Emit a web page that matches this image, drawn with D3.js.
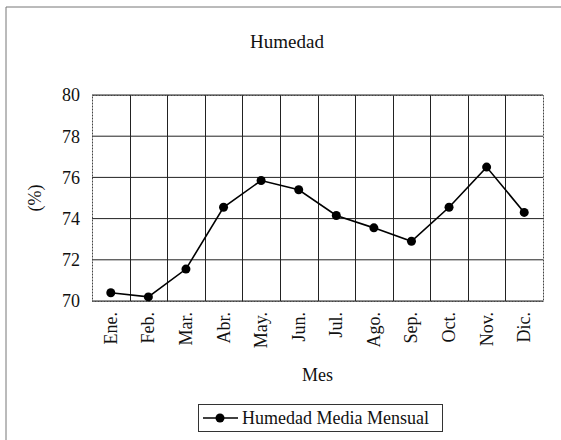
<!DOCTYPE html>
<html lang="es">
<head>
<meta charset="UTF-8">
<title>Humedad</title>
<script src="https://d3js.org/d3.v7.min.js"></script>
<style>
    * { margin: 0; padding: 0; box-sizing: border-box; }
    body { background: #fff; width: 561px; height: 440px; overflow: hidden; }
    svg text { font-family: "Liberation Serif", "Times New Roman", serif; fill: #111; }
</style>
</head>
<body>
<div id="chart"></div>
<script>
    // datos
    const meses = ["Ene.", "Feb.", "Mar.", "Abr.", "May.", "Jun.", "Jul.", "Ago.", "Sep.", "Oct.", "Nov.", "Dic."];
    const humedad = [70.4, 70.2, 71.55, 74.55, 75.85, 75.4, 74.15, 73.55, 72.9, 74.55, 76.5, 74.3];
    const yTicks = [70, 72, 74, 76, 78, 80];

    const W = 561, H = 440;
    const plot = { left: 92, right: 543, top: 95, bottom: 301 };

    const svg = d3.select("#chart").append("svg")
        .attr("width", W)
        .attr("height", H);

    // marco exterior (solo se ve arriba y a la izquierda)
    svg.append("path")
        .attr("d", `M6,${H} L6,7 L${W},7`)
        .attr("fill", "none")
        .attr("stroke", "#777")
        .attr("stroke-width", 1);

    const x = d3.scaleBand().domain(meses).range([plot.left, plot.right]);
    const y = d3.scaleLinear().domain([70, 80]).range([plot.bottom, plot.top]);

    // rejilla horizontal
    svg.append("g")
        .selectAll("line")
        .data(yTicks)
        .join("line")
        .attr("x1", plot.left).attr("x2", plot.right)
        .attr("y1", d => y(d)).attr("y2", d => y(d))
        .attr("stroke", "#222")
        .attr("stroke-width", 1);

    // rejilla vertical (entre meses)
    svg.append("g")
        .selectAll("line")
        .data(meses.slice(1))
        .join("line")
        .attr("x1", d => Math.round(x(d)) + 0.5).attr("x2", d => Math.round(x(d)) + 0.5)
        .attr("y1", plot.top).attr("y2", plot.bottom)
        .attr("stroke", "#222")
        .attr("stroke-width", 1);

    // borde del area de trazado
    svg.append("rect")
        .attr("x", plot.left + 0.5).attr("y", plot.top + 0.5)
        .attr("width", plot.right - plot.left).attr("height", plot.bottom - plot.top)
        .attr("fill", "none")
        .attr("stroke", "#444")
        .attr("stroke-width", 1)
        .attr("stroke-dasharray", "2,1");

    // etiquetas eje y
    svg.append("g")
        .selectAll("text")
        .data(yTicks)
        .join("text")
        .attr("x", 80)
        .attr("y", d => y(d))
        .attr("dy", "0.35em")
        .attr("text-anchor", "end")
        .style("font-size", "18px")
        .text(d => d);

    // etiquetas eje x (giradas)
    svg.append("g")
        .selectAll("text")
        .data(meses)
        .join("text")
        .attr("transform", d => `translate(${x(d) + x.bandwidth() / 2 + 6},312) rotate(-90)`)
        .attr("text-anchor", "end")
        .style("font-size", "18px")
        .text(d => d);

    // titulos
    svg.append("text")
        .attr("x", 287).attr("y", 48)
        .attr("text-anchor", "middle")
        .style("font-size", "19px")
        .text("Humedad");

    svg.append("text")
        .attr("x", (plot.left + plot.right) / 2).attr("y", 381)
        .attr("text-anchor", "middle")
        .style("font-size", "18px")
        .text("Mes");

    svg.append("text")
        .attr("transform", `translate(41,${(plot.top + plot.bottom) / 2}) rotate(-90)`)
        .attr("text-anchor", "middle")
        .style("font-size", "18px")
        .text("(%)");

    // serie
    const cx = d => x(d) + x.bandwidth() / 2;
    const linea = d3.line()
        .x((d, i) => cx(meses[i]))
        .y(d => y(d));

    svg.append("path")
        .datum(humedad)
        .attr("d", linea)
        .attr("fill", "none")
        .attr("stroke", "#000")
        .attr("stroke-width", 1.6);

    svg.append("g")
        .selectAll("circle")
        .data(humedad)
        .join("circle")
        .attr("cx", (d, i) => cx(meses[i]))
        .attr("cy", d => y(d))
        .attr("r", 4.5)
        .attr("fill", "#000");

    // leyenda
    const leg = svg.append("g").attr("transform", "translate(198,404)");
    leg.append("rect")
        .attr("x", 0.5).attr("y", 0.5)
        .attr("width", 244).attr("height", 27)
        .attr("fill", "#fff")
        .attr("stroke", "#333")
        .attr("stroke-width", 1);
    leg.append("line")
        .attr("x1", 5).attr("x2", 40)
        .attr("y1", 14).attr("y2", 14)
        .attr("stroke", "#000")
        .attr("stroke-width", 1.6);
    leg.append("circle")
        .attr("cx", 22).attr("cy", 14).attr("r", 4.5)
        .attr("fill", "#000");
    leg.append("text")
        .attr("x", 44).attr("y", 20)
        .style("font-size", "18px")
        .text("Humedad Media Mensual");
</script>
</body>
</html>
